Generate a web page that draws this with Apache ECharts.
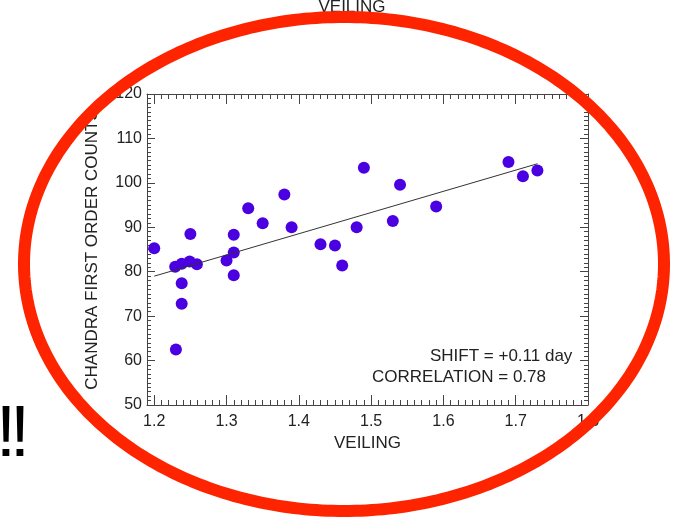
<!DOCTYPE html>
<html>
<head>
<meta charset="utf-8">
<script src="https://cdn.jsdelivr.net/npm/echarts@6/dist/echarts.min.js"></script>
<style>
html,body{margin:0;padding:0;background:#fff;}
#chart{width:673px;height:517px;}
</style>
</head>
<body>
<div id="chart"></div>
<script>
// ---- data ----
const veiling = [1.20, 1.229, 1.238, 1.249, 1.259, 1.238, 1.238, 1.23, 1.25, 1.30, 1.31, 1.31, 1.31, 1.33, 1.35, 1.38, 1.39, 1.43, 1.45, 1.46, 1.48, 1.49, 1.53, 1.54, 1.59, 1.69, 1.71, 1.73];
const counts  = [85.3, 81.1, 81.8, 82.3, 81.7, 77.4, 72.8, 62.5, 88.5, 82.5, 88.3, 84.3, 79.2, 94.3, 90.9, 97.4, 90.0, 86.2, 85.9, 81.4, 90.0, 103.4, 91.4, 99.6, 94.7, 104.7, 101.5, 102.8];
const fitX = [1.20, 1.73];
const fitY = [79.0, 104.3];
const xName = 'VEILING';
const yName = 'CHANDRA FIRST ORDER COUNTS';
const annoShift = 'SHIFT = +0.11 day';
const annoCorr = 'CORRELATION = 0.78';

const FONT = 'Liberation Sans, Arial, Helvetica, sans-serif';
const AXC = '#444';
const TXC = '#222';

const chart = echarts.init(document.getElementById('chart'), null, {renderer: 'canvas'});

// ellipse outline (decoration)
const ell = [];
const ecx = 344, ecy = 264, erx = 320, ery = 247;
for (let i = 0; i < 360; i++) {
  const t = i / 360 * Math.PI * 2;
  ell.push([ecx + erx * Math.cos(t), ecy + ery * Math.sin(t)]);
}

const pts = veiling.map((v, i) => [v, counts[i]]);
const fit = fitX.map((v, i) => [v, fitY[i]]);

const xMin = 1.19, xMax = 1.8, yMin = 50, yMax = 120;

chart.setOption({
  animation: false,
  backgroundColor: '#fff',
  grid: {left: 147, right: 85, top: 94, bottom: 112, containLabel: false},
  xAxis: [
    { // main bottom axis
      type: 'value', position: 'bottom', min: xMin, max: xMax,
      name: xName, nameLocation: 'middle', nameGap: 26,
      nameTextStyle: {fontFamily: FONT, fontSize: 17, color: TXC},
      axisLine: {show: true, lineStyle: {color: AXC, width: 1}},
      axisTick: {show: true, inside: true, length: 10, lineStyle: {color: AXC}},
      axisLabel: {show: true, margin: 9, fontFamily: FONT, fontSize: 16, color: TXC, showMinLabel: false, showMaxLabel: true},
      splitLine: {show: false}
    },
    { // bottom minor ticks
      type: 'value', position: 'bottom', min: xMin, max: xMax, interval: 0.01,
      axisLine: {show: false},
      axisTick: {show: true, inside: true, length: 5, lineStyle: {color: AXC}},
      axisLabel: {show: false}, splitLine: {show: false}
    },
    { // top major
      type: 'value', position: 'top', min: xMin, max: xMax,
      axisLine: {show: true, lineStyle: {color: AXC, width: 1}},
      axisTick: {show: true, inside: true, length: 10, lineStyle: {color: AXC}},
      axisLabel: {show: false}, splitLine: {show: false}
    },
    { // top minor
      type: 'value', position: 'top', min: xMin, max: xMax, interval: 0.01,
      axisLine: {show: false},
      axisTick: {show: true, inside: true, length: 5, lineStyle: {color: AXC}},
      axisLabel: {show: false}, splitLine: {show: false}
    }
  ],
  yAxis: [
    {
      type: 'value', position: 'left', min: yMin, max: yMax, interval: 10,
      name: yName, nameLocation: 'middle', nameGap: 46, nameRotate: 90,
      nameTextStyle: {fontFamily: FONT, fontSize: 17, color: TXC},
      axisLine: {show: true, lineStyle: {color: AXC, width: 1}},
      axisTick: {show: true, inside: true, length: 8, lineStyle: {color: AXC}},
      minorTick: {show: true, splitNumber: 10, length: 4, lineStyle: {color: AXC}},
      axisLabel: {show: true, margin: 5, fontFamily: FONT, fontSize: 16, color: TXC},
      splitLine: {show: false}
    },
    {
      type: 'value', position: 'right', min: yMin, max: yMax, interval: 10,
      axisLine: {show: true, lineStyle: {color: AXC, width: 1}},
      axisTick: {show: true, inside: true, length: 8, lineStyle: {color: AXC}},
      minorTick: {show: true, splitNumber: 10, length: 4, lineStyle: {color: AXC}},
      axisLabel: {show: false},
      splitLine: {show: false}
    }
  ],
  series: [
    {
      type: 'scatter', xAxisIndex: 0, yAxisIndex: 0, data: pts,
      symbol: 'circle', symbolSize: 12,
      itemStyle: {color: '#4A00E0', opacity: 1},
      z: 3
    },
    {
      type: 'line', xAxisIndex: 0, yAxisIndex: 0, data: fit,
      symbol: 'none', lineStyle: {color: '#333', width: 1},
      z: 4
    }
  ],
  graphic: [
    {type: 'text', left: 430, top: 348, style: {text: annoShift, font: '17px ' + FONT, fill: TXC}},
    {type: 'text', left: 372, top: 369, style: {text: annoCorr, font: '17px ' + FONT, fill: TXC}},
    {type: 'text', x: 352, y: 7, style: {text: xName, font: '17px ' + FONT, fill: TXC, align: 'center', verticalAlign: 'middle'}},
    {type: 'text', x: -4, y: 436, style: {text: '!', font: '72px ' + FONT, fill: '#000', verticalAlign: 'middle'}},
    {type: 'text', x: 10, y: 436, style: {text: '!', font: '72px ' + FONT, fill: '#000', verticalAlign: 'middle'}},
    {type: 'polygon', z: 100, shape: {points: ell}, style: {fill: 'none', stroke: '#FF2400', lineWidth: 12}}
  ]
});
</script>
</body>
</html>
